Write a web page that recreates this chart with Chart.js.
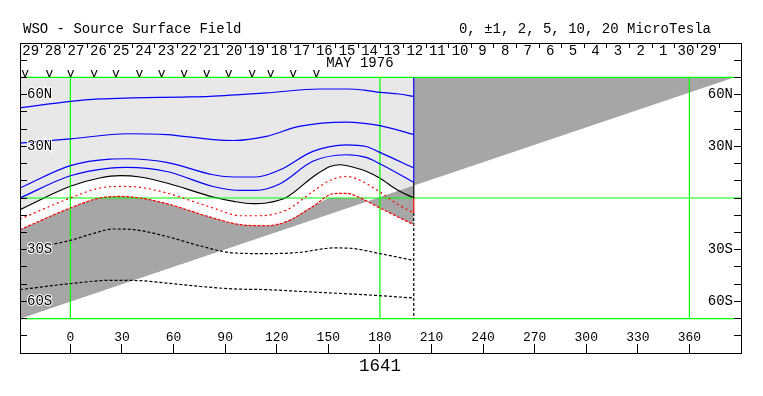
<!DOCTYPE html>
<html><head><meta charset="utf-8">
<script src="https://cdn.jsdelivr.net/npm/chart.js@4/dist/chart.umd.min.js"></script>
<style>html,body{margin:0;padding:0;background:#fff;}canvas{display:block;}</style>
</head><body>
<canvas id="c" width="763" height="396"></canvas>
<script>
// ---------- text ----------
const titleLeft = 'WSO - Source Surface Field';
const titleRight = '0, \u00b11, 2, 5, 10, 20 MicroTesla';
const monthLabel = 'MAY 1976';
const monthLon = 168.4;
const rotationLabel = '1641';
const rotationLon = 180;

// ---------- axes ----------
const lonTicks = [0, 30, 60, 90, 120, 150, 180, 210, 240, 270, 300, 330, 360];
const latTickValues = [60, 30, -30, -60];
const latTickLabels = ['60N', '30N', '30S', '60S'];
const dateLabels = ['29','28','27','26','25','24','23','22','21','20','19','18','17','16','15','14','13','12','11','10','9','8','7','6','5','4','3','2','1','30','29'];
const dateLons = [-23.1,-10.0,3.2,16.3,29.5,42.6,55.7,68.9,82.0,95.2,108.3,121.4,134.6,147.7,160.9,174.0,187.1,200.3,213.4,226.6,239.7,252.8,266.0,279.1,292.3,305.4,318.5,331.7,344.8,358.0,371.1];
const obsLons = [-26.3,-12.2,0.2,13.8,26.5,40.1,53.1,66.2,79.2,92.0,105.7,116.4,129.5,143.1];

// ---------- contours (longitude, latitude) ----------
const blue1Lon = [-29.3, 0, 17, 36, 65, 81, 114, 145, 161, 172, 180, 191, 199.7];
const blue1Lat = [52.3, 56.1, 57.5, 58.1, 58.6, 59.0, 61.0, 63.3, 63.3, 62.5, 61.3, 60.4, 59.0];
const blue2Lon = [-29.3, 0, 33, 56, 83, 95, 114, 133, 160.5, 180, 199.7];
const blue2Lat = [31.9, 34.3, 37.3, 36.8, 33.9, 33.4, 35.8, 41.6, 44.1, 42.0, 36.8];
const blue3Lon = [-29.3, 0, 23, 33, 56, 83, 95, 108, 122, 141, 160.5, 172, 180, 199.7];
const blue3Lat = [5.8, 18.8, 22.6, 22.8, 20.7, 13.5, 12.2, 12.2, 16.4, 27.1, 30.9, 29.9, 26.5, 17.4];
const blue4Lon = [-29.3, 0, 23, 33, 56, 83, 99, 108, 122, 141, 160.5, 172, 180, 199.7];
const blue4Lat = [0, 12.9, 17.4, 17.8, 15.4, 6.7, 4.4, 4.4, 8.3, 21.3, 25.1, 23.6, 19.9, 9.1];
const neutralLon = [-29.3, 0, 17, 29, 40.5, 56, 83, 95, 106, 114, 126, 141, 151, 157, 164, 172, 180, 190, 199.7];
const neutralLat = [-6.8, 6.8, 11.6, 13.0, 12.2, 8.7, 0.6, -2.0, -3.3, -2.9, 0.6, 12.2, 18.3, 19.3, 18.0, 15.5, 11.5, 4.8, 0];
const redALon = [-29.3, 0, 17, 29, 40.5, 56, 83, 99, 110, 126, 141, 151, 160.5, 168, 180, 190, 199.7];
const redALat = [-12.2, 0, 5.8, 6.7, 6.2, 2.9, -5.8, -10.3, -10.3, -6.8, 3.8, 10.2, 12.5, 10.5, 3.5, -3.5, -8.7];
const redBLon = [-29.3, 0, 17, 29, 40.5, 56, 83, 99, 114, 126, 141, 153, 160.5, 168, 180, 190, 199.7];
const redBLat = [-18.4, -5.8, 0, 0.9, 0, -3.3, -11.6, -15.5, -16.1, -13.6, -4.9, 2.5, 2.7, 0.3, -5.8, -10.7, -15.5];
const shadeTopLat = [-18.4, -5.8, 0, 0.9, 0, -3.3, -11.6, -15.5, -16.1, -13.6, -4.9, 0, 0, -0.3, -5.8, -10.7, -15.5];
const dashALon = [-12, 0, 13, 25, 37, 56, 75, 95, 114, 133, 153, 164, 180, 199.7];
const dashALat = [-27.2, -24.6, -20.7, -18.0, -18.4, -22.3, -27.7, -31.9, -32.3, -31.6, -29.0, -29.3, -32.3, -36.2];
const dashBLon = [-29.3, 0, 23, 40.5, 56, 75, 95, 114, 133, 153, 180, 199.7];
const dashBLat = [-53.2, -49.7, -47.8, -48.0, -49.4, -51.3, -52.8, -53.2, -54.2, -55.2, -56.7, -58.1];

// ---------- boundaries / reference lines ----------
const diagLon = [-29.3, 386];
const diagLat = [-70, 70];
const bandLon = [-29.3, 386];
const eqLon = [-29.3, 390];
const gridLons = [0, 180, 360];
const gridLatSpan = [-70, 70];
const edgeLon = 199.7;
const blueEdgeLat = [70, 9.1];
const blackEdgeLat = [9.1, 0];
const redEdgeLat = [0, -8.7];
const dashEdgeLat = [-8.7, -70];

const X_MIN = -29.3, X_MAX = 390;
const GREEN = '#00ff00', BLUE = '#0000ff', RED = '#ff0000', BLACK = '#000000';
const DARK = '#a6a6a6', LIGHT = '#e8e8e8';

function pts(lons, lats) { return lons.map((x, i) => ({x: x, y: lats[i]})); }
function vpts(lon, lats) { return lats.map(y => ({x: lon, y: y})); }
function line(data, color, extra) {
  return Object.assign({data: data, borderColor: color, borderWidth: 1.2, pointRadius: 0, pointHoverRadius: 0,
    showLine: true, fill: false, order: 0}, extra || {});
}
const smooth = {cubicInterpolationMode: 'monotone'};
const NONE = 'rgba(0,0,0,0)';

const datasets = [
  // 0: top limit line, filled down to the diagonal (dark)
  line(pts(bandLon, [70, 70]), GREEN, {fill: {target: 3}, backgroundColor: DARK, order: 50}),
  // 1: neutral line, light shading above it
  line(pts(neutralLon, neutralLat), BLACK, Object.assign({fill: {value: 70}, backgroundColor: LIGHT, order: 40}, smooth)),
  // 2: shading boundary, white between it and the neutral line
  line(pts(redBLon, shadeTopLat), NONE, Object.assign({fill: {target: 1}, backgroundColor: '#ffffff', order: 30, borderWidth: 0}, smooth)),
  // 3: diagonal, dark between it and the shading boundary
  line(pts(diagLon, diagLat), NONE, {fill: {target: 2}, backgroundColor: DARK, order: 20, borderWidth: 0}),
  // reference lines
  line(pts(bandLon, [-70, -70]), GREEN, {order: 10}),
  line(pts(eqLon, [0, 0]), GREEN, {order: 10}),
  ...gridLons.map(l => line(vpts(l, gridLatSpan), GREEN, {order: 10})),
  // contours
  line(pts(blue1Lon, blue1Lat), BLUE, smooth),
  line(pts(blue2Lon, blue2Lat), BLUE, smooth),
  line(pts(blue3Lon, blue3Lat), BLUE, smooth),
  line(pts(blue4Lon, blue4Lat), BLUE, smooth),
  line(pts(redALon, redALat), RED, Object.assign({borderDash: [2, 3]}, smooth)),
  line(pts(redBLon, redBLat), RED, Object.assign({borderDash: [3, 1.5]}, smooth)),
  line(pts(dashALon, dashALat), BLACK, Object.assign({borderDash: [3, 2]}, smooth)),
  line(pts(dashBLon, dashBLat), BLACK, Object.assign({borderDash: [3, 2]}, smooth)),
  // edge of the data at longitude 200
  line(vpts(edgeLon, blueEdgeLat), BLUE),
  line(vpts(edgeLon, blackEdgeLat), BLACK),
  line(vpts(edgeLon, redEdgeLat), RED),
  line(vpts(edgeLon, dashEdgeLat), BLACK, {borderDash: [3, 2]})
];

const textPlugin = {
  id: 'texts',
  afterDraw(chart) {
    const ctx = chart.ctx, x = chart.scales.x;
    ctx.save();
    ctx.fillStyle = '#000';
    ctx.textBaseline = 'alphabetic';
    ctx.font = '14px "Liberation Mono"';
    ctx.textAlign = 'left';
    ctx.fillText(titleLeft, 23, 32.5);
    ctx.textAlign = 'right';
    ctx.fillText(titleRight, 711, 32.5);
    ctx.textAlign = 'center';
    ctx.fillText(monthLabel, x.getPixelForValue(monthLon), 66.5);
    ctx.font = '13px "Liberation Mono"';
    obsLons.forEach(l => ctx.fillText('v', x.getPixelForValue(l), 76.5));
    ctx.font = '17.5px "Liberation Mono"';
    ctx.fillText(rotationLabel, x.getPixelForValue(rotationLon), 370.5);
    ctx.restore();
  }
};

Chart.defaults.font.family = '"Liberation Mono", monospace';
Chart.defaults.color = '#000';

function latLabel(v) { const i = latTickValues.indexOf(v); return i >= 0 ? latTickLabels[i] : ''; }
const axisBorder = {display: true, color: BLACK, width: 1, z: 2};

new Chart(document.getElementById('c'), {
  type: 'scatter',
  data: {datasets: datasets},
  plugins: [textPlugin],
  options: {
    responsive: false,
    devicePixelRatio: 1,
    animation: false,
    events: [],
    layout: {padding: {left: 20, right: 22, top: 43, bottom: 43}},
    plugins: {
      legend: {display: false},
      tooltip: {enabled: false},
      title: {display: false},
      filler: {drawTime: 'beforeDatasetsDraw', propagate: false}
    },
    scales: {
      x: {
        type: 'linear', position: 'bottom', min: X_MIN, max: X_MAX,
        afterBuildTicks: s => { s.ticks = lonTicks.map(v => ({value: v})); },
        afterFit: s => { s.height = 0; s.paddingLeft = 0; s.paddingRight = 0; },
        ticks: {z: 2, mirror: true, padding: 8, autoSkip: false, maxRotation: 0, font: {size: 13}, callback: v => String(v)},
        grid: {z: 1, drawOnChartArea: false, drawTicks: true, tickLength: -9, color: BLACK},
        border: axisBorder
      },
      x2: {
        type: 'linear', position: 'top', min: X_MIN, max: X_MAX,
        afterBuildTicks: s => { s.ticks = dateLons.map(v => ({value: v})); },
        afterFit: s => { s.height = 0; s.paddingLeft = 0; s.paddingRight = 0; },
        ticks: {z: 2, mirror: true, padding: 0, autoSkip: false, maxRotation: 0, font: {size: 14}, callback: (v, i) => dateLabels[i]},
        grid: {z: 1, offset: true, drawOnChartArea: false, drawTicks: true, tickLength: -5, color: BLACK},
        border: axisBorder
      },
      y: {
        type: 'linear', position: 'left', min: -90, max: 90,
        afterFit: s => { s.width = 0; s.paddingTop = 0; s.paddingBottom = 0; },
        ticks: {z: 2, stepSize: 10, mirror: true, padding: 7, autoSkip: false, font: {size: 14},
                textStrokeColor: '#ffffff', textStrokeWidth: 2, callback: v => latLabel(v)},
        grid: {z: 1, drawOnChartArea: false, drawTicks: true, tickLength: -7, color: BLACK},
        border: axisBorder
      },
      y2: {
        type: 'linear', position: 'right', min: -90, max: 90,
        afterFit: s => { s.width = 0; s.paddingTop = 0; s.paddingBottom = 0; },
        ticks: {z: 2, stepSize: 10, mirror: true, padding: -8, autoSkip: false, font: {size: 14},
                textStrokeColor: '#ffffff', textStrokeWidth: 2, callback: v => latLabel(v)},
        grid: {z: 1, drawOnChartArea: false, drawTicks: true, tickLength: -7, color: BLACK},
        border: axisBorder
      }
    }
  }
});
</script>
</body></html>
